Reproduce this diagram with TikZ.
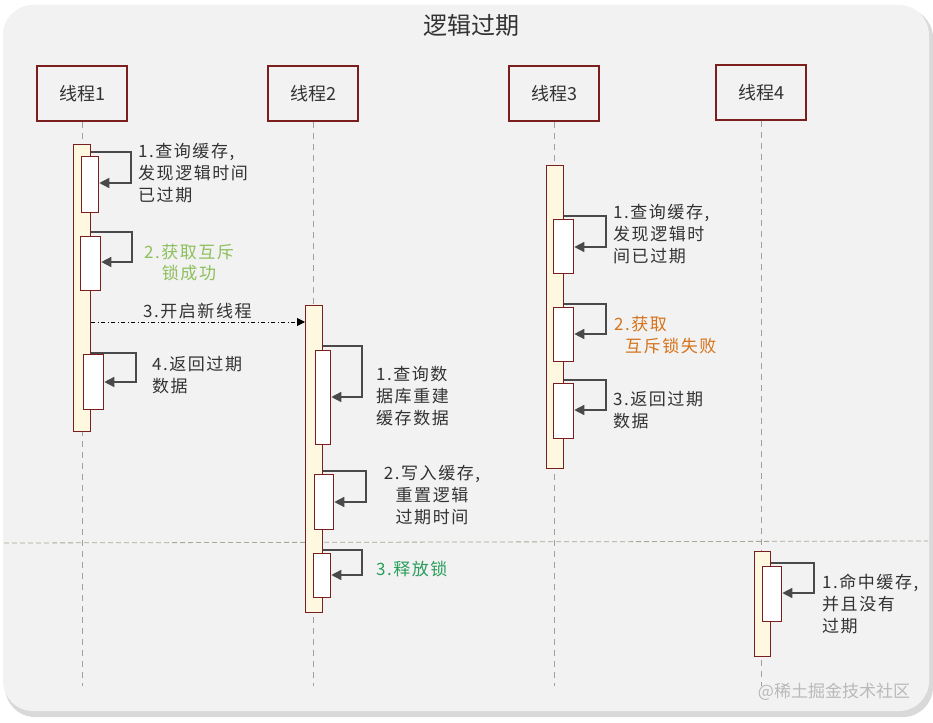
\documentclass[tikz,border=0pt]{standalone}
\usepackage{fontspec}
\setmainfont{Noto Sans CJK SC}
\newfontfamily\lblfont[LetterSpace=9]{Noto Sans CJK SC}
\usetikzlibrary{arrows.meta}
\definecolor{bg}{HTML}{F2F2F2}
\definecolor{dred}{HTML}{7A1E1E}
\definecolor{bary}{HTML}{FFF8E0}
\definecolor{arr}{HTML}{4A4A4A}
\definecolor{lgreen}{HTML}{8DBF5C}
\definecolor{dgreen}{HTML}{2A9D5C}
\definecolor{orng}{HTML}{D5731C}
\definecolor{txt}{HTML}{333333}
\definecolor{sep}{HTML}{A8A898}
\begin{document}
\begin{tikzpicture}[x=1pt,y=-1pt,
  head/.style={draw=dred,line width=1.5pt,fill=bg,minimum width=90pt,minimum height=55pt,inner sep=0,font=\fontsize{18}{20}\selectfont,text=txt},
  act/.style={draw=dred,line width=1.3pt,fill=bary,anchor=north west,inner sep=0,minimum width=17pt},
  inbox/.style={draw=dred,line width=1.3pt,fill=white,anchor=north west,inner sep=0},
  life/.style={draw=gray!75,dashed,line width=0.8pt,dash pattern=on 6pt off 5pt},
  self/.style={draw=arr,line width=1.5pt,-{Triangle[length=10pt,width=10pt]}},
  lbl/.style={anchor=north west,align=left,inner sep=0,font=\lblfont\fontsize{17}{22}\selectfont,text=txt},
  clbl/.style={anchor=north,align=center,inner sep=0,font=\lblfont\fontsize{17}{21}\selectfont}]
\useasboundingbox (0,0) rectangle (933,722);
\fill[white] (0,0) rectangle (933,722);
% shadow and background
\fill[black!30,rounded corners=30pt] (6,9) rectangle (932,715);
\fill[black!15,rounded corners=30pt] (5,8) rectangle (933,717);
\fill[bg,rounded corners=30pt] (3,5) rectangle (929,711);
% title
\node[font=\fontsize{24}{26}\selectfont,text=txt] (title) at (471,25) {逻辑过期};
% heads
\node[head] (h1) at (82,93.5) {线程1};
\node[head] (h2) at (313,93.5) {线程2};
\node[head] (h3) at (554,93.5) {线程3};
\node[head] (h4) at (761,92.5) {线程4};
% lifelines
\coordinate (e1) at (82,686);
\coordinate (e2) at (313,686);
\coordinate (e3) at (554,686);
\coordinate (e4) at (761,686);
\draw[life] (h1.south) -- (e1);
\draw[life] (h2.south) -- (e2);
\draw[life] (h3.south) -- (e3);
\draw[life] (h4.south) -- (e4);
% separator
\coordinate (s1) at (4,543);
\coordinate (s2) at (928,541);
\draw[draw=sep,dashed,line width=0.8pt,dash pattern=on 5pt off 3pt] (s1) -- (s2);
% thread 1
\node[act,minimum height=287pt] (a1) at (73,144) {};
\node[inbox,minimum width=17pt,minimum height=56pt] (b11) at (81,156) {};
\node[inbox,minimum width=20pt,minimum height=54pt] (b12) at (80,236) {};
\node[inbox,minimum width=20pt,minimum height=55pt] (b13) at (83,354) {};
\draw[self] (a1.east |- 0,152) -- (131,152) -- (131,183) -- (b11.east |- 0,183);
\draw[self] (a1.east |- 0,232) -- (132,232) -- (132,262) -- (b12.east |- 0,262);
\draw[self] (a1.east |- 0,353) -- (136,353) -- (136,382) -- (b13.east |- 0,382);
\node[lbl] (t11) at (138,143) {1.查询缓存,\\发现逻辑时间\\已过期};
\node[clbl,text=lgreen] (t12) at (189,244) {2.获取互斥\\锁成功};
\node[lbl] (t14) at (152,356) {4.返回过期\\数据};
% thread 2
\node[act,minimum height=307pt] (a2) at (305,305) {};
\node[inbox,minimum width=15pt,minimum height=94pt] (b21) at (315,350) {};
\node[inbox,minimum width=19pt,minimum height=55pt] (b22) at (314,474) {};
\node[inbox,minimum width=17pt,minimum height=44pt] (b23) at (313,553) {};
\draw[self] (a2.east |- 0,346) -- (362,346) -- (362,397) -- (b21.east |- 0,397);
\draw[self] (a2.east |- 0,471) -- (366,471) -- (366,502) -- (b22.east |- 0,502);
\draw[self] (a2.east |- 0,550) -- (362,550) -- (362,575) -- (b23.east |- 0,575);
\node[lbl] (t21) at (376,366) {1.查询数\\据库重建\\缓存数据};
\node[clbl,text=txt,font=\lblfont\fontsize{17}{22}\selectfont] (t22) at (432,465) {2.写入缓存,\\重置逻辑\\过期时间};
\node[lbl,text=dgreen] (t23) at (376,561) {3.释放锁};
% message
\draw[draw=black,line width=1pt,dash pattern=on 4pt off 2.5pt on 1pt off 2.5pt,-{Triangle[length=8pt,width=8pt]}] (a1.east |- 0,322) -- (a2.west |- 0,322);
\node[lbl] (t13) at (143,303) {3.开启新线程};
% thread 3
\node[act,minimum height=303pt] (a3) at (546,165) {};
\node[inbox,minimum width=20pt,minimum height=54pt] (b31) at (553,219) {};
\node[inbox,minimum width=20pt,minimum height=54pt] (b32) at (553,307) {};
\node[inbox,minimum width=20pt,minimum height=55pt] (b33) at (553,383) {};
\draw[self] (a3.east |- 0,216) -- (606,216) -- (606,247) -- (b31.east |- 0,247);
\draw[self] (a3.east |- 0,304) -- (606,304) -- (606,334) -- (b32.east |- 0,334);
\draw[self] (a3.east |- 0,380) -- (606,380) -- (606,410) -- (b33.east |- 0,410);
\node[lbl] (t31) at (613,204) {1.查询缓存,\\发现逻辑时\\间已过期};
\node[lbl,text=orng] (t32) at (614,316) {2.获取\\\hspace*{11pt}互斥锁失败};
\node[lbl] (t33) at (613,391) {3.返回过期\\数据};
% thread 4
\node[act,minimum width=16pt,minimum height=105pt] (a4) at (754,551) {};
\node[inbox,minimum width=19pt,minimum height=55pt] (b41) at (762,566) {};
\draw[self] (a4.east |- 0,563) -- (814,563) -- (814,593) -- (b41.east |- 0,593);
\node[lbl] (t41) at (822,574) {1.命中缓存,\\并且没有\\过期};
% watermark
\node[font=\fontsize{17}{19}\selectfont,text=gray!55] (wm) at (834,692) {@稀土掘金技术社区};
\end{tikzpicture}
\end{document}
